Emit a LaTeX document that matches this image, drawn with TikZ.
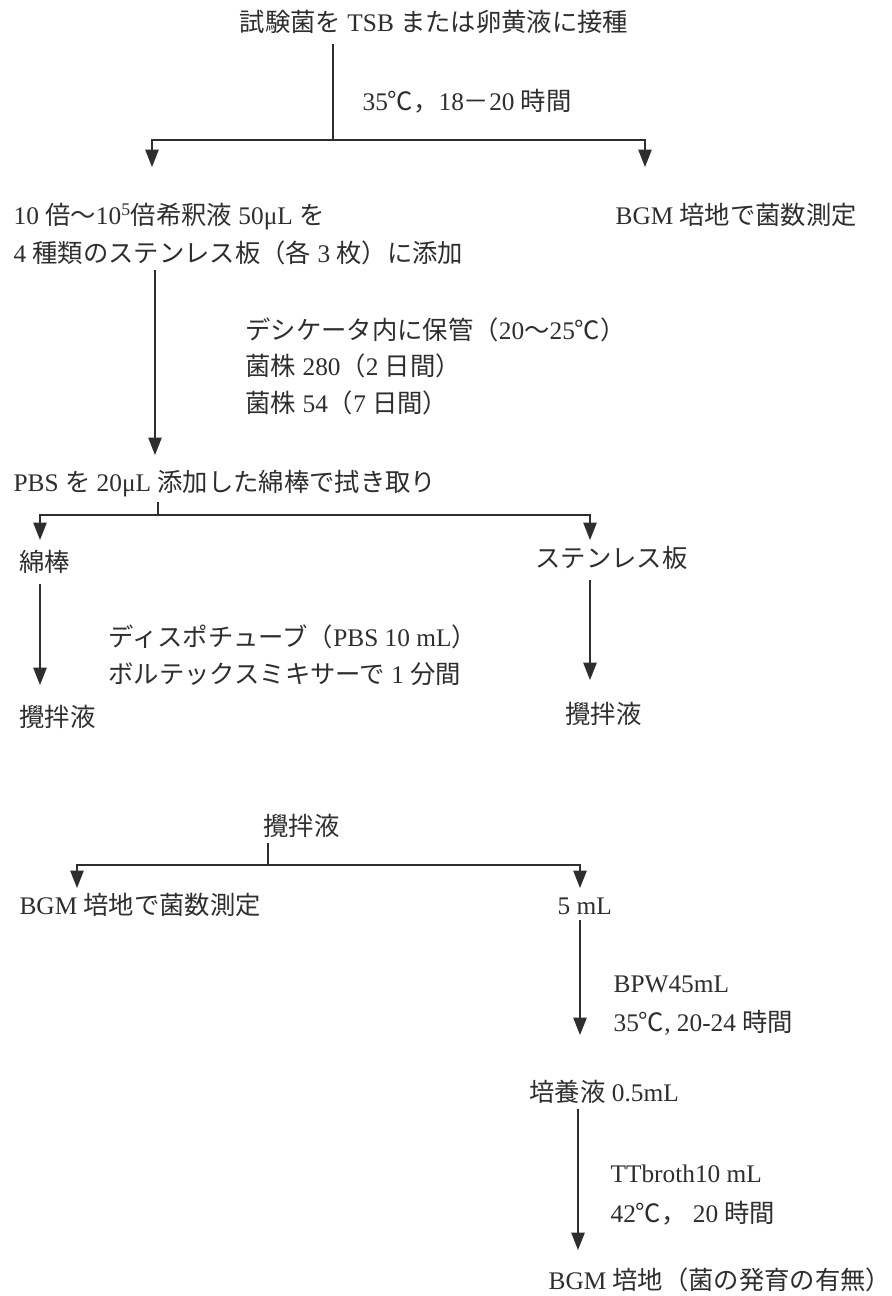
\documentclass[tikz,border=0pt]{standalone}
\usepackage{fontspec}
\setmainfont{Liberation Serif}
\newfontfamily\jpf{Noto Sans CJK JP}
\newcommand\jp[1]{{\jpf #1}}
\usetikzlibrary{arrows.meta}
\definecolor{ink}{HTML}{2E2E2E}
\tikzset{
  txt/.style={inner sep=4pt, anchor=base west, font=\fontsize{19}{24}\selectfont, text=ink},
  conn/.style={draw=ink, line width=1.1pt},
  arr/.style={conn, -{Triangle[length=13pt,width=10pt]}},
}
\begin{document}
\begin{tikzpicture}[x=0.75pt,y=-0.75pt]
\useasboundingbox (0,0) rectangle (892,1296);
\fill[white] (0,0) rectangle (892,1296);
% ---- nodes ----
\node[txt,anchor=base] (top) at (434,31) {\jp{試験菌を} TSB \jp{または卵黄液に接種}};
\node[txt] (lab1) at (357,110) {35\jp{℃，}18\jp{－}20 \jp{時間}};
\node[txt] (dil1) at (8,224) {10 \jp{倍〜}10\textsuperscript{5}\jp{倍希釈液} 50μL \jp{を}};
\node[txt] (dil2) at (8,262) {4 \jp{種類のステンレス板（各} 3 \jp{枚）に添加}};
\node[txt] (bgm1) at (610,224) {BGM \jp{培地で菌数測定}};
\node[txt] (des1) at (240,339) {\jp{デシケータ内に保管（}20\jp{〜}25\jp{℃）}};
\node[txt] (des2) at (240,375) {\jp{菌株} 280\jp{（}2 \jp{日間）}};
\node[txt] (des3) at (240,412) {\jp{菌株} 54\jp{（}7 \jp{日間）}};
\node[txt] (pbs) at (8,491) {PBS \jp{を} 20μL \jp{添加した綿棒で拭き取り}};
\node[txt] (menbou) at (14,571) {\jp{綿棒}};
\node[txt] (stain) at (530,567) {\jp{ステンレス板}};
\node[txt] (dispo) at (103,646) {\jp{ディスポチューブ（}PBS 10 mL\jp{）}};
\node[txt] (vortex) at (103,683) {\jp{ボルテックスミキサーで} 1 \jp{分間}};
\node[txt] (kaku1) at (14,726) {\jp{攪拌液}};
\node[txt] (kaku2) at (560,723) {\jp{攪拌液}};
\node[txt] (kaku3) at (258,835) {\jp{攪拌液}};
\node[txt] (bgm2) at (14,914) {BGM \jp{培地で菌数測定}};
\node[txt] (five) at (552,914) {5 mL};
\node[txt] (bpw) at (608,992) {BPW45mL};
\node[txt] (t35) at (608,1031) {35\jp{℃}, 20-24 \jp{時間}};
\node[txt] (baiyo) at (524,1101) {\jp{培養液} 0.5mL};
\node[txt] (tt) at (605,1182) {TTbroth10 mL};
\node[txt] (t42) at (605,1222) {42\jp{℃，} 20 \jp{時間}};
\node[txt] (bgm3) at (543,1289) {BGM \jp{培地（菌の発育の有無）}};
% ---- coordinates ----
\coordinate (j1) at (333,140);
\coordinate (a1) at (152,167);
\coordinate (a2) at (645,167);
\coordinate (b1) at (155,455);
\coordinate (j2) at (158,515);
\coordinate (c1) at (40,540);
\coordinate (c2) at (590,540);
\coordinate (d1) at (40,685);
\coordinate (d2) at (590,680);
\coordinate (j3) at (268,865);
\coordinate (e1) at (77,888);
\coordinate (e2) at (580,888);
\coordinate (f1) at (580,1035);
\coordinate (g1) at (578,1250);
% ---- connectors ----
\draw[conn,shorten <=4pt] (top.south -| j1) -- (j1);
\draw[arr] (j1) -| (a1);
\draw[arr] (j1) -| (a2);
\draw[arr] (dil2.south -| b1) -- (b1);
\draw[conn] (pbs.south -| j2) -- (j2);
\draw[arr] (j2) -| (c1);
\draw[arr] (j2) -| (c2);
\draw[arr,shorten <=4pt] (menbou.south -| d1) -- (d1);
\draw[arr,shorten <=4pt] (stain.south -| d2) -- (d2);
\draw[conn] (kaku3.south -| j3) -- (j3);
\draw[arr] (j3) -| (e1);
\draw[arr] (j3) -| (e2);
\draw[arr] (five.south -| f1) -- (f1);
\draw[arr] (baiyo.south -| g1) -- (g1);
\end{tikzpicture}
\end{document}
